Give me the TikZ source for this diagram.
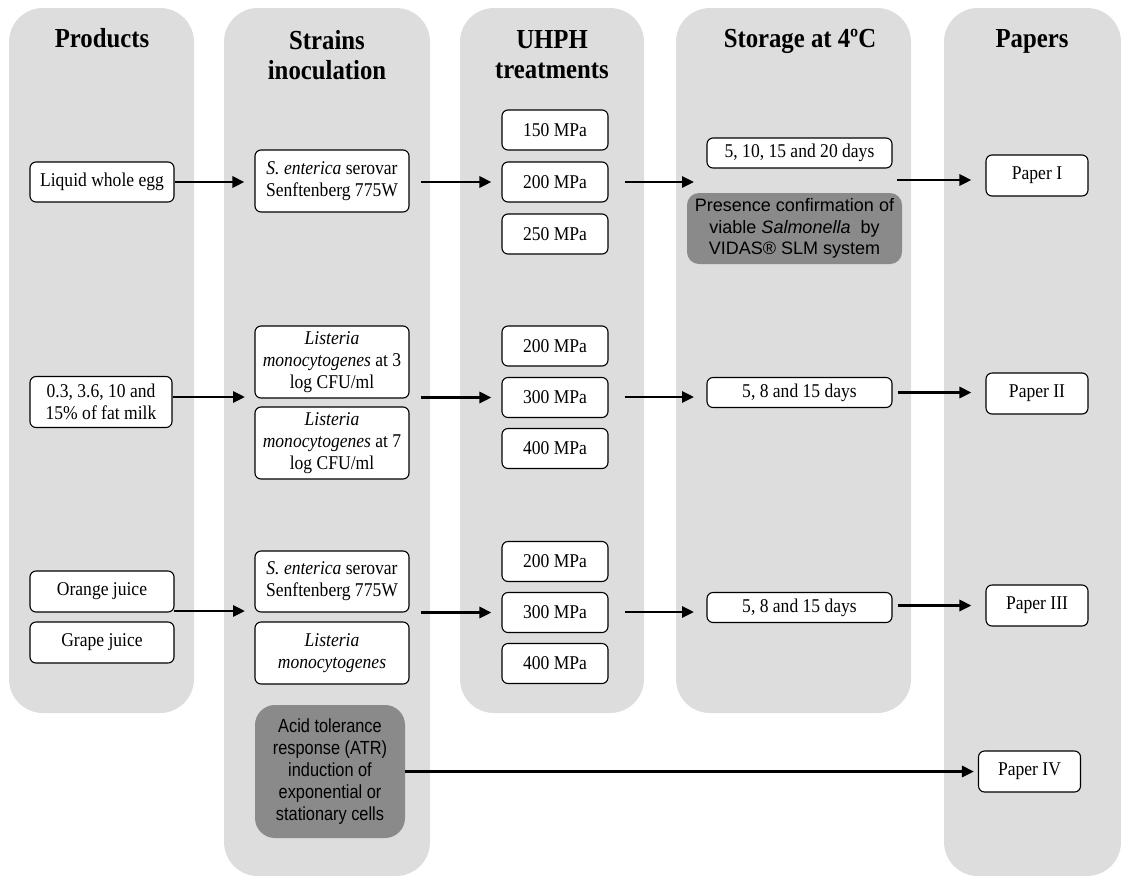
\documentclass[tikz,border=0pt]{standalone}
\usepackage{fontspec}
\setmainfont{Liberation Serif}[FakeStretch=0.9]
\setsansfont{Liberation Sans}
\newfontfamily\acidfont{Liberation Sans}[FakeStretch=0.86]
\usetikzlibrary{arrows.meta,calc}
\definecolor{colgray}{RGB}{221,221,221}
\definecolor{darkbox}{RGB}{138,138,138}
\begin{document}
\begin{tikzpicture}[x=1pt,y=-1pt,
  col/.style={fill=colgray, draw=none, rounded corners=34pt},
  box/.style={draw=black, line width=1.1pt, fill=white, rounded corners=6pt, align=center, inner sep=1pt, font=\fontsize{19.5}{22}\selectfont},
  dbox/.style={fill=darkbox, draw=none, align=center, inner sep=1pt, font=\sffamily\fontsize{18}{21.5}\selectfont},
  hdr/.style={align=center, font=\bfseries\fontsize{27.5}{30}\selectfont},
  arr/.style={line width=2.8pt, -{Triangle[length=12pt,width=11pt]}},
  mpa/.style={box, minimum width=106pt, minimum height=40pt},
  daybox/.style={box, minimum width=185pt, minimum height=30pt},
  paper/.style={box, minimum width=102pt, minimum height=41pt}
]
\useasboundingbox (0,0) rectangle (1121,876);
% columns
\fill[col] (9,8) rectangle (194,713);
\fill[col] (224,8) rectangle (430,876);
\fill[col] (460,8) rectangle (644,713);
\fill[col] (676,8) rectangle (911,713);
\fill[col] (944,8) rectangle (1121,876);
% headers
\node[hdr, anchor=base] (h1) at (102,47) {Products};
\node[hdr] (h2) at (327,55) {Strains\\inoculation};
\node[hdr] (h3) at (552,55) {UHPH\\treatments};
\node[hdr, anchor=base] (h4) at (800,47) {Storage at 4ºC};
\node[hdr, anchor=base] (h5) at (1032,47) {Papers};
% products
\node[box, minimum width=144pt, minimum height=40pt] (egg) at (102,182) {Liquid whole egg};
\node[box, minimum width=142pt, minimum height=51pt] (milk) at (101,402) {0.3, 3.6, 10 and\\15\% of fat milk};
\node[box, minimum width=144pt, minimum height=41pt] (orange) at (102,591.5) {Orange juice};
\node[box, minimum width=144pt, minimum height=41pt] (grape) at (102,642.5) {Grape juice};
% strains
\node[box, minimum width=154pt, minimum height=62pt] (s1) at (332,181) {\textit{S. enterica} serovar\\Senftenberg 775W};
\node[box, minimum width=154pt, minimum height=72pt] (l3) at (332,362) {\textit{Listeria}\\\textit{monocytogenes} at 3\\log CFU/ml};
\node[box, minimum width=154pt, minimum height=72pt] (l7) at (332,443) {\textit{Listeria}\\\textit{monocytogenes} at 7\\log CFU/ml};
\node[box, minimum width=154pt, minimum height=61pt] (s3) at (332,581.5) {\textit{S. enterica} serovar\\Senftenberg 775W};
\node[box, minimum width=154pt, minimum height=62pt] (l3b) at (332,653) {\textit{Listeria}\\\textit{monocytogenes}};
\node[dbox, font=\acidfont\fontsize{19}{21.8}\selectfont, rounded corners=20pt, minimum width=150pt, minimum height=133pt] (acid) at (330,771.5) {Acid tolerance\\response (ATR)\\induction of\\exponential or\\stationary cells};
% UHPH
\node[mpa] (m11) at (555,130) {150 MPa};
\node[mpa] (m12) at (555,182) {200 MPa};
\node[mpa] (m13) at (555,234) {250 MPa};
\node[mpa] (m21) at (555,346) {200 MPa};
\node[mpa] (m22) at (555,397.5) {300 MPa};
\node[mpa] (m23) at (555,448.5) {400 MPa};
\node[mpa] (m31) at (555,561.5) {200 MPa};
\node[mpa] (m32) at (555,612.5) {300 MPa};
\node[mpa] (m33) at (555,663.5) {400 MPa};
% storage
\node[daybox] (d1) at (799.5,153) {5, 10, 15 and 20 days};
\node[dbox, rounded corners=12pt, minimum width=215pt, minimum height=71pt] (pres) at (794.5,228.5) {Presence confirmation of\\viable \textit{Salmonella}\ \ by\\VIDAS® SLM system};
\node[daybox] (d2) at (799.5,392.5) {5, 8 and 15 days};
\node[daybox] (d3) at (799.5,607.5) {5, 8 and 15 days};
% papers
\node[paper] (p1) at (1037,175.5) {Paper I};
\node[paper] (p2) at (1037,393.5) {Paper II};
\node[paper] (p3) at (1037,605.5) {Paper III};
\node[paper] (p4) at (1029.5,771.5) {Paper IV};
% free ends
\coordinate (in2) at (245,397);
\coordinate (o3) at (174,611);
\coordinate (in3) at (245,611);
\coordinate (st1in) at (694,182);
\coordinate (st1out) at (897,180);
\coordinate (st2in) at (694,397);
\coordinate (st3in) at (694,612);
% arrows row 1
\draw[arr, shorten >=10pt] (egg.east) -- (s1.west |- egg.east);
\draw[arr, shorten <=11pt, shorten >=10pt] (s1.east |- m12.west) -- (m12.west);
\draw[arr, shorten <=16pt] (m12.east) -- (st1in);
\draw[arr, shorten >=14pt] (st1out) -- (st1out -| p1.west);
% row 2
\draw[arr] (milk.east |- in2) -- (in2);
\draw[arr, shorten <=11pt, shorten >=10pt] (l3.east |- m22.west) -- (m22.west);
\draw[arr, shorten <=16pt] (m22.east |- st2in) -- (st2in);
\draw[arr, shorten <=5pt, shorten >=14pt] (d2.east) -- (d2.east -| p2.west);
% row 3
\draw[arr] (o3) -- (in3);
\draw[arr, shorten <=11pt, shorten >=10pt] (s3.east |- m32.west) -- (m32.west);
\draw[arr, shorten <=16pt] (m32.east |- st3in) -- (st3in);
\draw[arr, shorten <=5pt, shorten >=14pt] (d3.east |- p3.west) -- (p3.west);
% row 4
\draw[arr, shorten >=4pt] (acid.east |- p4.west) -- (p4.west);
\end{tikzpicture}
\end{document}
